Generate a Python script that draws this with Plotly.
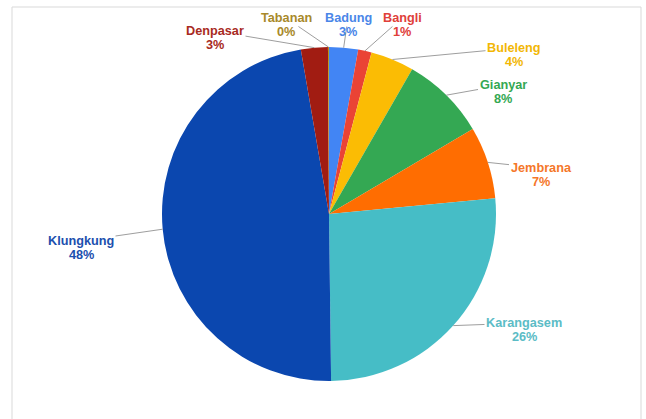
import math
import plotly.graph_objects as go

# ---- data ----
regions = ["Badung", "Bangli", "Buleleng", "Gianyar", "Jembrana",
           "Karangasem", "Klungkung", "Denpasar", "Tabanan"]
shares = [2.8, 1.3, 4.2, 8.2, 7.0, 26.3, 47.5, 2.6, 0.1]

# ---- styles ----
slice_colors = ["#4285F4", "#EA4335", "#FBBC04", "#34A853", "#FF6D01",
                "#46BDC6", "#0B47AF", "#A11C12", "#B8951A"]
label_colors = ["#4A86E8", "#E0403A", "#F2B705", "#34A853", "#F5772A",
                "#5BBCC6", "#1C4FAE", "#A82A22", "#A8892A"]
# label block centre positions (pixels) for each slice label
label_pos = [(348, 25), (402, 25), (514, 55), (503, 92), (541, 175),
             (524, 330), (81, 248), (215, 38), (286, 25)]
LINE_GAP = 14
FONT = "Liberation Sans, Arial"
FSIZE = 12.7

W, H = 646, 419
cx, cy, R = 329, 214, 167

fig = go.Figure(go.Pie(
    labels=regions, values=shares, sort=False, direction="clockwise",
    rotation=0, marker=dict(colors=slice_colors, line=dict(width=0)),
    textinfo="none", hoverinfo="skip", showlegend=False,
    domain=dict(x=[(cx - R) / W, (cx + R) / W], y=[1 - (cy + R) / H, 1 - (cy - R) / H]),
))

total = sum(shares)
cum = 0.0
annotations = []
for name, v, col, (lx, ly) in zip(regions, shares, label_colors, label_pos):
    mid = (cum + v / 2) / total * 2 * math.pi
    cum += v
    axp = cx + R * math.sin(mid)
    ayp = cy - R * math.cos(mid)
    pct = round(v / total * 100)
    ny = ly - LINE_GAP / 2
    py = ly + LINE_GAP / 2
    annotations.append(dict(
        x=axp / W, y=1 - ayp / H, xref="paper", yref="paper",
        ax=lx - axp, ay=ny - ayp, axref="pixel", ayref="pixel",
        text=f"<b>{name}</b>", showarrow=True,
        arrowhead=0, arrowwidth=1, arrowcolor="#9E9E9E", standoff=0,
        font=dict(family=FONT, size=FSIZE, color=col),
        borderpad=1,
    ))
    annotations.append(dict(
        x=lx / W, y=1 - py / H, xref="paper", yref="paper",
        text=f"<b>{pct}%</b>", showarrow=False,
        xanchor="center", yanchor="middle",
        font=dict(family=FONT, size=FSIZE, color=col),
    ))

fig.update_layout(
    width=W, height=H, margin=dict(l=0, r=0, t=0, b=0),
    paper_bgcolor="white", plot_bgcolor="white",
    annotations=annotations,
    shapes=[dict(type="rect", xref="paper", yref="paper",
                 x0=12 / W, x1=641 / W, y0=-0.05, y1=1 - 7 / H,
                 line=dict(color="#D9D9D9", width=1), layer="below")],
)

fig.write_html("out.html")
